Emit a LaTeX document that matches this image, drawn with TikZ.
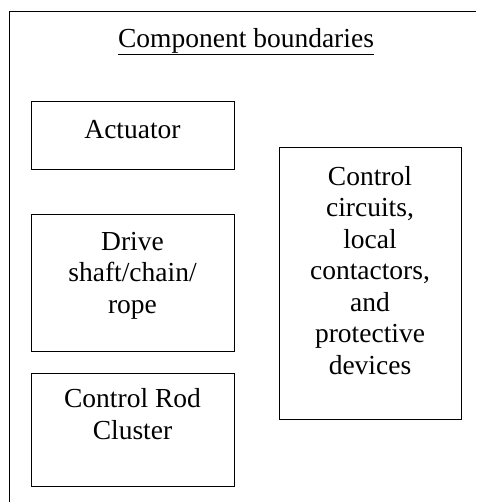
\documentclass[tikz,border=0pt]{standalone}
\usepackage{fontspec}
\setmainfont{Liberation Serif}
\usetikzlibrary{positioning}

\tikzset{
	partbox/.style={rectangle, draw, line width=1pt, minimum width=203pt, inner sep=0pt},
	parttext/.style={align=center, inner sep=0pt, font=\fontsize{27.5}{31.5}\selectfont}
}

\begin{document}
\begin{tikzpicture}[x=1pt, y=-1pt]
		
		\useasboundingbox (0,0) rectangle (476,502);
		
		%Boundary frame
		\coordinate (frameBottom) at (9,502);
		\coordinate (frameCorner) at (9,12);
		\coordinate (frameRight) at (476,12);
		\draw[line width=1pt] (frameBottom) -- (frameCorner) -- (frameRight);
		\node (title) at (246,28) [parttext, anchor=north]{\underline{Component boundaries}};
		
		%Left column
		\node (actuator) at (132.5,136) [partbox, minimum height=68pt]{};
		\node (driveShaft) at (132.5,283) [partbox, minimum height=136pt]{};
		\node (rodCluster) at (132.5,429.5) [partbox, minimum height=113pt]{};
		
		\node (actuatorText) [parttext, below=18.5pt of actuator.north]{Actuator};
		\node (driveText) [parttext, below=17.5pt of driveShaft.north]{Drive\\shaft/chain/\\rope};
		\node (rodText) [parttext, below=16pt of rodCluster.north]{Control Rod\\Cluster};
		
		%Right column
		\node (controls) at (370,283.5) [partbox, minimum width=182pt, minimum height=271pt]{};
		\node (controlsText) [parttext, below=18.5pt of controls.north]{Control\\circuits,\\local\\contactors,\\and\\protective\\devices};
		
\end{tikzpicture}
\end{document}
